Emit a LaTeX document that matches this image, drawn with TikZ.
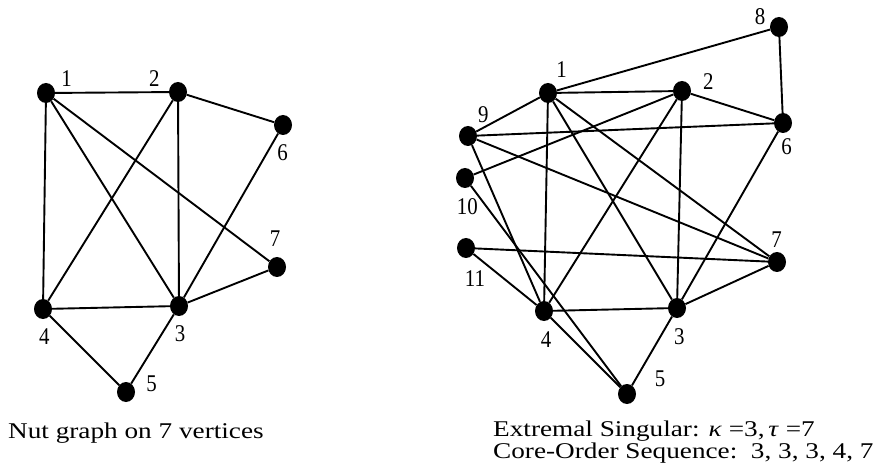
\documentclass[tikz,border=0pt]{standalone}
\usepackage{fontspec}
\setmainfont{Liberation Serif}
\newfontfamily\capfont[FakeStretch=1.21]{Liberation Serif}
\newfontfamily\numfont[FakeStretch=0.87]{Liberation Serif}
\usetikzlibrary{shapes.geometric}
\begin{document}
\begin{tikzpicture}[x=1pt,y=-1pt,
  vtx/.style={ellipse,fill=black,inner sep=0pt,minimum width=18pt,minimum height=20pt},
  lbl/.style={inner sep=0pt,font=\numfont\fontsize{24}{24}\selectfont},
  captxt/.style={inner sep=0pt,anchor=base west,align=left,font=\capfont\fontsize{22.5}{20}\selectfont},
  lnk/.style={line width=1.9pt}]
\useasboundingbox (0,0) rectangle (876,473);
% ---- left graph ----
\node[vtx] (a1) at (46,93) {};
\node[vtx] (a2) at (178,92) {};
\node[vtx] (a6) at (283,125) {};
\node[vtx] (a7) at (277,267) {};
\node[vtx] (a3) at (179,306) {};
\node[vtx] (a4) at (43,309) {};
\node[vtx] (a5) at (126,392) {};
\foreach \u/\v in {a1/a2,a1/a4,a1/a3,a1/a7,a2/a4,a2/a3,a2/a6,a4/a3,a3/a6,a3/a7,a4/a5,a3/a5}
  \draw[lnk] (\u) -- (\v);
\node[lbl] (la1) at (66.7,78.3) {1};
\node[lbl] (la2) at (154.3,78.3) {2};
\node[lbl] (la6) at (282.7,152.7) {6};
\node[lbl] (la7) at (275,238.3) {7};
\node[lbl] (la3) at (180,333.3) {3};
\node[lbl] (la4) at (44.3,336.7) {4};
\node[lbl] (la5) at (151.7,383.3) {5};
% ---- right graph ----
\node[vtx] (b8) at (779,27) {};
\node[vtx] (b1) at (548,93) {};
\node[vtx] (b2) at (682,91) {};
\node[vtx] (b6) at (783,123) {};
\node[vtx] (b9) at (468,136) {};
\node[vtx] (b10) at (465,178) {};
\node[vtx] (b11) at (466,248) {};
\node[vtx] (b7) at (777,262) {};
\node[vtx] (b4) at (544,311) {};
\node[vtx] (b3) at (677,308) {};
\node[vtx] (b5) at (627,394) {};
\foreach \u/\v in {b8/b1,b8/b6,b1/b2,b1/b9,b1/b4,b1/b3,b1/b7,b2/b6,b2/b10,b2/b4,b2/b3,b9/b6,b9/b7,b9/b4,b10/b5,b11/b7,b11/b4,b4/b3,b4/b5,b3/b5,b3/b6,b3/b7}
  \draw[lnk] (\u) -- (\v);
\node[lbl] (lb8) at (760,16.7) {8};
\node[lbl] (lb1) at (561.7,70) {1};
\node[lbl] (lb2) at (708.3,81.7) {2};
\node[lbl] (lb9) at (483.3,115) {9};
\node[lbl] (lb6) at (786.7,146.7) {6};
\node[lbl] (lb10) at (467.3,206.7) {10};
\node[lbl] (lb11) at (475,278.3) {11};
\node[lbl] (lb7) at (776.7,240) {7};
\node[lbl] (lb4) at (546,340) {4};
\node[lbl] (lb3) at (679.3,336.7) {3};
\node[lbl] (lb5) at (660,378.3) {5};
% ---- captions ----
\node[captxt] (capL) at (8,438) {Nut graph on 7 vertices};
\node[captxt] (capR) at (493,458) {Extremal Singular: \textit{κ} =3,\,\textit{τ} =7\\Core-Order Sequence:\ \ 3, 3, 3, 4, 7};
\end{tikzpicture}
\end{document}
